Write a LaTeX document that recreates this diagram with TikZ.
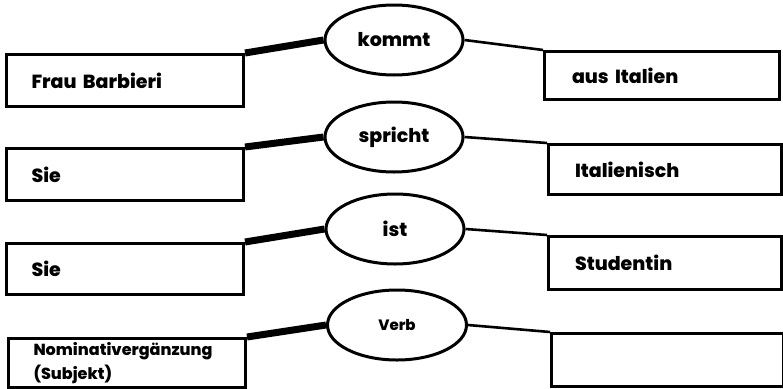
\documentclass[tikz,border=0pt]{standalone}
\usepackage{fontspec}
\setmainfont{Poppins}[BoldFont={* ExtraBold}]
\usetikzlibrary{shapes.geometric}

\begin{document}
\begin{tikzpicture}[x=1pt, y=-1pt,
    subjbox/.style={rectangle, draw=black, line width=3pt, anchor=north west, minimum width=237pt, minimum height=52pt, text width=187pt, inner xsep=25pt, inner ysep=0pt, align=left, font=\fontsize{19}{22}\selectfont\bfseries},
    objbox/.style={rectangle, draw=black, line width=3pt, anchor=north west, minimum width=233pt, minimum height=50pt, text width=180pt, inner xsep=26pt, inner ysep=0pt, align=left, font=\fontsize{19}{22}\selectfont\bfseries},
    verbnode/.style={ellipse, draw=black, line width=3pt, minimum width=138pt, minimum height=70pt, inner sep=0pt, font=\fontsize{19}{22}\selectfont\bfseries},
    subjlink/.style={line width=7pt},
    objlink/.style={line width=2.6pt}
]
    \useasboundingbox (0,0) rectangle (783,388);

    \node[subjbox] (subj1) at (5,53) {Frau Barbieri};
    \node[verbnode] (verb1) at (394,40) {kommt};
    \node[objbox, minimum width=235pt, minimum height=48pt] (obj1) at (543,50) {aus Italien};

    \node[subjbox] (subj2) at (5,147) {Sie};
    \node[verbnode] (verb2) at (394,137) {spricht};
    \node[objbox] (obj2) at (547,143) {Italienisch};

    \node[subjbox, minimum height=51pt] (subj3) at (5,242) {Sie};
    \node[verbnode] (verb3) at (395,229) {ist};
    \node[objbox, minimum height=53pt] (obj3) at (547,235) {Studentin};

    \node[subjbox, minimum width=236pt, minimum height=49pt, font=\fontsize{16}{24}\selectfont\bfseries] (subj4) at (7,337) {Nominativergänzung\\(Subjekt)};
    \node[verbnode, minimum width=139pt, font=\fontsize{15}{18}\selectfont\bfseries] (verb4) at (397,325) {Verb};
    \node[objbox, minimum width=231pt, minimum height=53pt] (obj4) at (550,332) {};

    \draw[subjlink] (subj1.north east) -- (verb1.west);
    \draw[objlink] (verb1.east) -- (obj1.north west);
    \draw[subjlink] (subj2.north east) -- (verb2.west);
    \draw[objlink] (verb2.east) -- (obj2.north west);
    \draw[subjlink] (subj3.north east) -- (verb3.west);
    \draw[objlink] (verb3.east) -- (obj3.north west);
    \draw[subjlink] (subj4.north east) -- (verb4.west);
    \draw[objlink] (verb4.east) -- (obj4.north west);
\end{tikzpicture}
\end{document}
